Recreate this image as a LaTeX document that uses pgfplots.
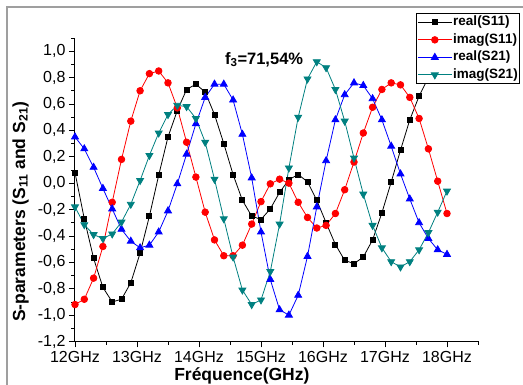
\documentclass[border=0pt]{standalone}
\usepackage{fontspec}
\setmainfont{Liberation Sans}
\usepackage{pgfplots}
\usepackage{pgfplotstable}
\pgfplotsset{compat=1.18}
\definecolor{tealS}{RGB}{0,128,128}
\pgfplotstableread{
f rs11 is11 rs21 is21
12.00 0.08 -0.92 0.35 -0.18
12.15 -0.27 -0.88 0.26 -0.315
12.30 -0.57 -0.72 0.12 -0.39
12.45 -0.79 -0.48 -0.04 -0.42
12.60 -0.90 -0.145 -0.195 -0.385
12.75 -0.88 0.18 -0.35 -0.295
12.90 -0.755 0.47 -0.44 -0.16
13.05 -0.53 0.70 -0.49 0.02
13.20 -0.25 0.83 -0.47 0.21
13.35 0.06 0.85 -0.37 0.38
13.50 0.35 0.76 -0.21 0.52
13.65 0.55 0.57 -0.005 0.59
13.80 0.71 0.31 0.22 0.58
13.95 0.75 0.046 0.45 0.49
14.10 0.69 -0.22 0.65 0.31
14.25 0.52 -0.43 0.75 0.03
14.40 0.30 -0.55 0.75 -0.27
14.55 0.065 -0.55 0.63 -0.56
14.70 -0.13 -0.47 0.37 -0.81
14.85 -0.25 -0.31 0.04 -0.92
15.00 -0.275 -0.14 -0.37 -0.885
15.15 -0.195 -0.005 -0.73 -0.67
15.30 -0.07 0.03 -0.96 -0.31
15.45 0.026 0.0 -1.0 0.115
15.60 0.066 -0.145 -0.85 0.50
15.75 0.01 -0.26 -0.555 0.79
15.90 -0.13 -0.34 -0.18 0.92
16.05 -0.30 -0.32 0.17 0.875
16.20 -0.465 -0.23 0.48 0.71
16.35 -0.585 -0.05 0.67 0.47
16.50 -0.61 0.16 0.76 0.19
16.65 -0.56 0.38 0.74 -0.083
16.80 -0.43 0.575 0.64 -0.32
16.95 -0.225 0.71 0.48 -0.49
17.10 0.008 0.76 0.28 -0.595
17.25 0.25 0.745 0.07 -0.635
17.40 0.48 0.65 -0.12 -0.595
17.55 0.66 0.49 -0.30 -0.505
17.70 0.80 0.26 -0.42 -0.375
17.85 0.87 0.015 -0.505 -0.22
18.00 0.86 -0.23 -0.54 -0.06
}\datatable
\begin{document}
\begin{tikzpicture}[x=1pt,y=1pt]
\useasboundingbox (0,0) rectangle (523,385);
\draw[gray!75, line width=1.5pt] (7,-20) -- (7,378) -- (560,378);
\begin{axis}[
  at={(75pt,43.5pt)}, anchor=south west,
  scale only axis, width=403pt, height=303.5pt,
  xmin=12, xmax=18.5, ymin=-1.2, ymax=1.1,
  axis x line=bottom, axis y line=left,
  axis line style={black, line width=1pt, -},
  xtick={12,13,14,15,16,17,18},
  xticklabels={12GHz,13GHz,14GHz,15GHz,16GHz,17GHz,18GHz},
  minor xtick={12.5,13.5,14.5,15.5,16.5,17.5,18.5},
  ytick={-1.2,-1.0,-0.8,-0.6,-0.4,-0.2,0,0.2,0.4,0.6,0.8,1.0},
  yticklabels={{-1,2},{-1,0},{-0,8},{-0,6},{-0,4},{-0,2},{0,0},{0,2},{0,4},{0,6},{0,8},{1,0}},
  minor ytick={-1.1,-0.9,-0.7,-0.5,-0.3,-0.1,0.1,0.3,0.5,0.7,0.9,1.1},
  tick align=outside, major tick length=6pt, minor tick length=3.5pt,
  tick style={black, line width=0.8pt},
  tick label style={font=\fontsize{16}{18}\selectfont},
  xlabel={Fréquence(GHz)},
  xlabel style={at={(axis description cs:0.414,0)}, anchor=base, yshift=-39pt,
    font=\bfseries\fontsize{17.5}{19}\selectfont},
  ylabel={S-parameters (S\textsubscript{11} and S\textsubscript{21})},
  ylabel style={at={(axis description cs:-0.124,0.427)}, anchor=base,
    font=\bfseries\fontsize{17.5}{19}\selectfont},
  clip=false,
  legend cell align=left,
  legend style={at={(axis description cs:0.846,1.082)}, anchor=north west,
    draw=black, line width=1pt, fill=white, inner sep=1pt,
    font=\bfseries\fontsize{13.5}{15}\selectfont, row sep=2pt,
    nodes={inner sep=1pt, text height=10pt, text depth=3.5pt}},
  legend image code/.code={\draw[mark repeat=2, mark phase=2, line width=0.8pt]
    plot coordinates {(0pt,0pt) (17pt,0pt) (34pt,0pt)};},
]
\addplot[black, line width=0.8pt, mark=square*, mark size=2.5pt, mark options={solid}]
  table[x=f, y=rs11] {\datatable};
\addlegendentry{real(S11)}
\addplot[red, line width=0.8pt, mark=*, mark size=3.3pt, mark options={solid}]
  table[x=f, y=is11] {\datatable};
\addlegendentry{imag(S11)}
\addplot[blue, line width=0.8pt, mark=triangle*, mark size=4pt, mark options={solid}]
  table[x=f, y=rs21] {\datatable};
\addlegendentry{real(S21)}
\addplot[tealS, line width=0.8pt, mark=triangle*, mark size=4pt, mark options={solid, rotate=180}]
  table[x=f, y=is21] {\datatable};
\addlegendentry{imag(S21)}
\node[anchor=base, font=\bfseries\fontsize{16.5}{18}\selectfont] at (axis cs:15.05,0.90) {f\textsubscript{3}=71,54\%};
\end{axis}
\end{tikzpicture}
\end{document}
